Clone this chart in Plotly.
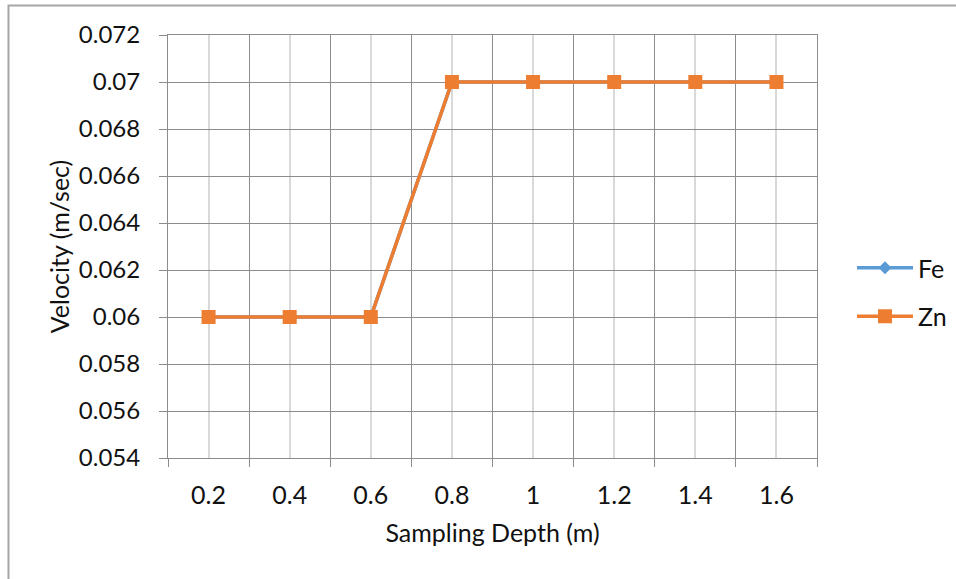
import plotly.graph_objects as go

# Sampling depths (m) and measured velocities (m/sec)
depth = [0.2, 0.4, 0.6, 0.8, 1.0, 1.2, 1.4, 1.6]
depth_labels = ["0.2", "0.4", "0.6", "0.8", "1", "1.2", "1.4", "1.6"]
fe_velocity = [0.06, 0.06, 0.06, 0.07, 0.07, 0.07, 0.07, 0.07]
zn_velocity = [0.06, 0.06, 0.06, 0.07, 0.07, 0.07, 0.07, 0.07]

y_ticks = [0.054, 0.056, 0.058, 0.06, 0.062, 0.064, 0.066, 0.068, 0.07, 0.072]
y_tick_labels = ["0.054", "0.056", "0.058", "0.06", "0.062", "0.064",
                 "0.066", "0.068", "0.07", "0.072"]

FONT = "Lato, Calibri, Carlito, sans-serif"
FS = 25
TEXT = "#111111"
DARK_GRID = "#8c8c8c"
LIGHT_GRID = "#d9d9d9"

fig = go.Figure()
fig.add_trace(go.Scatter(
    x=depth, y=fe_velocity, name="Fe", mode="lines+markers",
    legendgroup="fe",
    line=dict(color="#5B9BD5", width=3.5),
    marker=dict(symbol="diamond", size=10, color="#5B9BD5"),
))
fig.add_trace(go.Scatter(
    x=depth, y=zn_velocity, name="Zn", mode="lines+markers",
    legendgroup="zn",
    line=dict(color="#ED7D31", width=3.5),
    marker=dict(symbol="square", size=14, color="#ED7D31"),
))

W, H = 956, 579
L, R, T, B = 168, 139, 35, 121
pw, ph = W - L - R, H - T - B

fig.update_layout(
    width=W, height=H,
    margin=dict(l=L, r=R, t=T, b=B, autoexpand=False),
    paper_bgcolor="white", plot_bgcolor="white",
    font=dict(family=FONT, size=FS, color=TEXT),
    showlegend=True,
    legend=dict(
        x=(852 - L) / pw, xanchor="left",
        y=1 - (292 - T) / ph, yanchor="middle",
        font=dict(size=FS, color=TEXT),
        itemwidth=56,
        tracegroupgap=13,
        bgcolor="rgba(0,0,0,0)",
    ),
    xaxis=dict(
        range=[0.1, 1.7],
        tickmode="array", tickvals=depth, ticktext=depth_labels,
        ticks="", showgrid=True, gridcolor=LIGHT_GRID, gridwidth=1.5,
        minor=dict(tickmode="linear", tick0=0.1, dtick=0.2,
                   ticks="outside", ticklen=8, tickcolor=DARK_GRID,
                   showgrid=True, gridcolor=DARK_GRID, gridwidth=1),
        showline=True, linecolor=DARK_GRID, linewidth=1, mirror=True,
        zeroline=False,
        ticklabelstandoff=15,
        tickfont=dict(size=FS, color=TEXT),
        title=dict(text="Sampling Depth (m)", font=dict(size=FS, color=TEXT),
                   standoff=16),
    ),
    yaxis=dict(
        range=[0.054, 0.072],
        tickmode="array", tickvals=y_ticks, ticktext=y_tick_labels,
        ticks="outside", ticklen=8, tickcolor=DARK_GRID,
        showgrid=True, gridcolor=DARK_GRID, gridwidth=1,
        showline=True, linecolor=DARK_GRID, linewidth=1, mirror=True,
        zeroline=False,
        ticklabelstandoff=14,
        tickfont=dict(size=24, color=TEXT),
        title=dict(text="Velocity (m/sec)", font=dict(size=FS, color=TEXT),
                   standoff=2),
    ),
    shapes=[dict(
        type="rect", xref="paper", yref="paper", layer="below",
        x0=(8.5 - L) / pw, x1=(W + 20 - L) / pw,
        y0=1 - (H + 20 - T) / ph, y1=1 - (5.5 - T) / ph,
        line=dict(color="#a6a6a6", width=2), fillcolor="rgba(0,0,0,0)",
    )],
)

fig.write_html("out.html")
